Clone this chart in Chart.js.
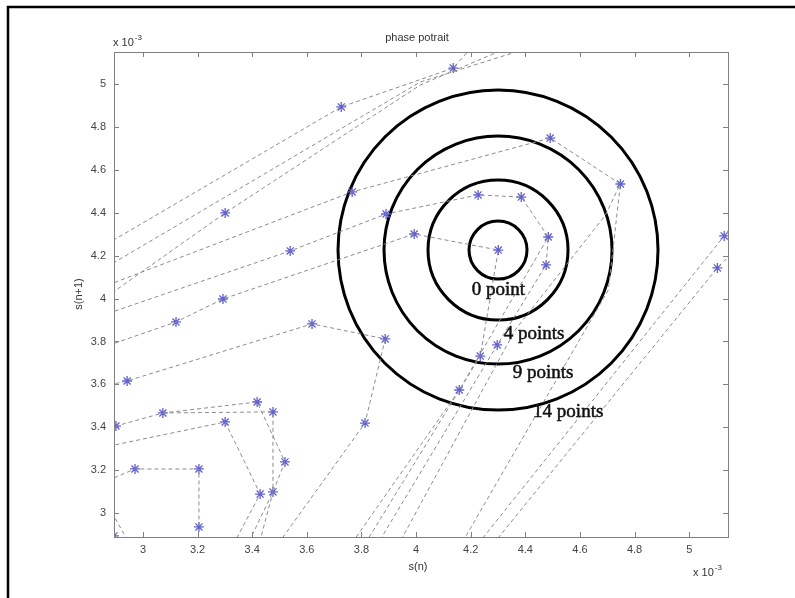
<!DOCTYPE html>
<html lang="en">
<head>
  <meta charset="UTF-8" />
  <title>phase potrait</title>
  <script src="https://cdn.jsdelivr.net/npm/chart.js"></script>
  <style>
    html, body { margin: 0; padding: 0; background: #fff; }
    #wrap { width: 795px; height: 598px; position: relative; }
  </style>
</head>
<body>
  <div id="wrap"><canvas id="chartCanvas" width="795" height="598"></canvas></div>

  <script>
    // tick values (both axes are x 10^-3)
    const xTicks = [3, 3.2, 3.4, 3.6, 3.8, 4, 4.2, 4.4, 4.6, 4.8, 5];
    const yTicks = [3, 3.2, 3.4, 3.6, 3.8, 4, 4.2, 4.4, 4.6, 4.8, 5];

    // trajectory pieces: [s(n), s(n+1)] pairs
    const seg1  = [[2.824, 4.222], [3.726, 4.893], [4.136, 5.074], [4.227, 5.205]];
    const seg2  = [[2.824, 4.115], [4.015, 5.009], [4.528, 5.214]];
    const seg3  = [[2.824, 3.970], [3.301, 4.399], [4.015, 4.995], [4.418, 5.214]];
    const seg4  = [[2.824, 3.910], [3.539, 4.222], [3.890, 4.394], [4.227, 4.483], [4.385, 4.473],
                   [4.484, 4.287], [4.476, 4.157], [4.297, 3.784], [3.824, 2.782]];
    const seg5  = [[2.824, 4.040], [3.766, 4.497], [4.491, 4.748], [4.748, 4.534], [4.693, 4.389],
                   [4.363, 3.854], [3.905, 2.782]];
    const seg6  = [[2.824, 3.760], [3.121, 3.891], [3.293, 3.998], [3.993, 4.301], [4.301, 4.226],
                   [4.235, 3.732], [3.777, 2.782]];
    const seg7  = [[2.824, 3.583], [2.942, 3.616], [3.619, 3.882], [3.887, 3.812], [3.813, 3.420],
                   [3.513, 2.889], [3.473, 2.782]];
    const seg8  = [[2.824, 3.378], [2.901, 3.406], [3.073, 3.467], [3.418, 3.518], [3.520, 3.239],
                   [3.476, 3.099], [3.356, 2.782]];
    const seg9  = [[3.073, 3.467], [3.476, 3.472], [3.476, 3.099], [3.410, 2.782]];
    const seg10 = [[2.824, 3.299], [3.301, 3.425], [3.429, 3.089], [3.301, 2.782]];
    const seg11 = [[2.824, 3.127], [2.971, 3.206], [3.205, 3.206], [3.205, 2.936]];
    const seg12 = [[2.861, 3.061], [2.953, 2.852]];
    const seg13 = [[3.722, 2.782], [4.158, 3.574], [4.484, 4.287]];
    const seg14 = [[4.180, 2.782], [5.128, 4.292], [5.187, 4.389]];
    const seg15 = [[4.235, 2.782], [5.103, 4.143], [5.187, 4.250]];
    const seg16 = [[4.132, 2.782], [4.704, 4.040], [4.748, 4.534]];

    // star markers
    const markX = [4.136, 3.726, 3.301, 4.491, 4.748, 3.766, 3.890, 4.227, 4.385, 3.993,
                   4.301, 4.484, 4.476, 3.539, 3.293, 3.121, 3.619, 3.887, 2.942, 2.901,
                   3.073, 3.418, 3.476, 3.301, 3.520, 3.429, 3.476, 3.813, 4.158, 4.235,
                   4.297, 2.971, 3.205, 3.205, 2.894, 5.128, 5.103];
    const markY = [5.074, 4.893, 4.399, 4.748, 4.534, 4.497, 4.394, 4.483, 4.473, 4.301,
                   4.226, 4.287, 4.157, 4.222, 3.998, 3.891, 3.882, 3.812, 3.616, 3.406,
                   3.467, 3.518, 3.472, 3.425, 3.239, 3.089, 3.099, 3.420, 3.574, 3.732,
                   3.784, 3.206, 3.206, 2.936, 2.894, 4.292, 4.143];

    // rings around the fixed point
    const ringCenter = [4.30, 4.226];
    const ringLabels = ["0 point", "4 points", "9 points", "14 points"];

    const segments = [seg1, seg2, seg3, seg4, seg5, seg6, seg7, seg8,
                      seg9, seg10, seg11, seg12, seg13, seg14, seg15, seg16];

    const ringRadii = [29, 70, 114, 160];
    const ringLabelAt = [[4.301, 4.040], [4.432, 3.835], [4.465, 3.653], [4.557, 3.471]];

    const datasets = segments.map(seg => ({
      data: seg.map(([x, y]) => ({ x, y })),
      showLine: true,
      pointRadius: 0,
      borderColor: "#8c8c8c",
      borderWidth: 1,
      borderDash: [4, 3],
      fill: false
    }));

    datasets.push({
      data: markX.map((x, i) => ({ x, y: markY[i] })),
      showLine: false,
      pointStyle: "star",
      pointRadius: 5,
      borderColor: "#6060d0",
      borderWidth: 1.3,
      backgroundColor: "transparent"
    });

    datasets.push({
      data: ringRadii.map(() => ({ x: ringCenter[0], y: ringCenter[1] })),
      showLine: false,
      pointStyle: "circle",
      pointRadius: ringRadii,
      borderColor: "#000",
      borderWidth: 3,
      backgroundColor: "rgba(0,0,0,0)"
    });

    function supText(ctx, base, sup, x, y) {
      ctx.font = "11px 'Liberation Sans'";
      ctx.textAlign = "left";
      ctx.textBaseline = "alphabetic";
      ctx.fillText(base, x, y);
      const w = ctx.measureText(base).width;
      ctx.font = "8px 'Liberation Sans'";
      ctx.fillText(sup, x + w + 1, y - 6);
    }

    const matlabLook = {
      id: "matlabLook",
      afterDraw(chart) {
        const { ctx, chartArea: a, scales } = chart;
        const sx = scales.x, sy = scales.y;
        ctx.save();

        // axes box
        ctx.strokeStyle = "#808080";
        ctx.lineWidth = 1;
        ctx.strokeRect(a.left + 0.5, a.top + 0.5, a.right - a.left, a.bottom - a.top);

        // inward ticks on all sides
        ctx.beginPath();
        xTicks.forEach(v => {
          const p = Math.round(sx.getPixelForValue(v)) + 0.5;
          ctx.moveTo(p, a.bottom); ctx.lineTo(p, a.bottom - 5);
          ctx.moveTo(p, a.top); ctx.lineTo(p, a.top + 5);
        });
        yTicks.forEach(v => {
          const p = Math.round(sy.getPixelForValue(v)) + 0.5;
          ctx.moveTo(a.left, p); ctx.lineTo(a.left + 5, p);
          ctx.moveTo(a.right, p); ctx.lineTo(a.right - 5, p);
        });
        ctx.stroke();

        // outer figure frame (cut at right and bottom)
        ctx.strokeStyle = "#000";
        ctx.lineWidth = 2.5;
        ctx.beginPath();
        ctx.moveTo(8, 598); ctx.lineTo(8, 7); ctx.lineTo(795, 7);
        ctx.stroke();

        // texts
        ctx.fillStyle = "#333";
        ctx.font = "11px 'Liberation Sans'";
        ctx.textAlign = "center";
        ctx.textBaseline = "middle";
        ctx.fillText("phase potrait", 417, 38);
        ctx.fillText("s(n)", 418, 567);

        ctx.save();
        ctx.translate(79, 294);
        ctx.rotate(-Math.PI / 2);
        ctx.fillText("s(n+1)", 0, 0);
        ctx.restore();

        supText(ctx, "x 10", "-3", 113, 46);
        supText(ctx, "x 10", "-3", 693, 576);

        // ring labels, a bit heavy like the scanned original
        ctx.fillStyle = "#111";
        ctx.strokeStyle = "#111";
        ctx.lineWidth = 0.5;
        ctx.font = "19px 'Liberation Serif'";
        ctx.textAlign = "center";
        ctx.textBaseline = "middle";
        ringLabels.forEach((t, i) => {
          const [lx, ly] = ringLabelAt[i];
          const px = sx.getPixelForValue(lx), py = sy.getPixelForValue(ly);
          ctx.fillText(t, px, py);
          ctx.strokeText(t, px, py);
        });

        ctx.restore();
      }
    };

    const tickFont = { family: "'Liberation Sans'", size: 11 };

    new Chart(document.getElementById("chartCanvas").getContext("2d"), {
      type: "scatter",
      data: { datasets },
      options: {
        responsive: false,
        animation: false,
        layout: { autoPadding: false, padding: { left: 0, top: 52, right: 67, bottom: 0 } },
        plugins: { legend: { display: false }, tooltip: { enabled: false } },
        scales: {
          x: {
            type: "linear",
            min: 2.894,
            max: 5.142,
            afterBuildTicks: s => { s.ticks = xTicks.map(v => ({ value: v })); },
            afterFit: s => { s.height = 61; },
            grid: { display: false, drawTicks: false },
            border: { display: false },
            ticks: { padding: 6, font: tickFont, color: "#444", maxRotation: 0, autoSkip: false,
                     callback: v => String(v) }
          },
          y: {
            type: "linear",
            min: 2.889,
            max: 5.149,
            afterBuildTicks: s => { s.ticks = yTicks.map(v => ({ value: v })); },
            afterFit: s => { s.width = 114; },
            grid: { display: false, drawTicks: false },
            border: { display: false },
            ticks: { padding: 8, font: tickFont, color: "#444", autoSkip: false,
                     callback: v => String(v) }
          }
        }
      },
      plugins: [matlabLook]
    });
  </script>
</body>
</html>
